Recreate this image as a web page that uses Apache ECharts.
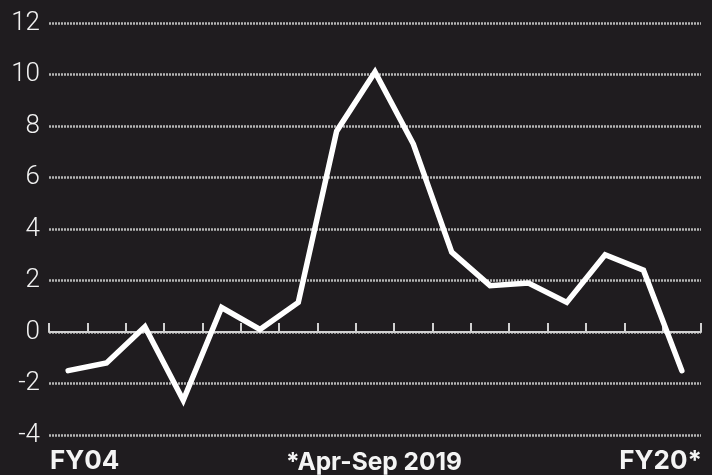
<!DOCTYPE html>
<html>
<head>
<meta charset="utf-8">
<style>
  html, body { margin: 0; padding: 0; background: #1f1c1f; }
  #chart { width: 712px; height: 475px; }
</style>
<script src="https://cdn.jsdelivr.net/npm/echarts@6/dist/echarts.min.js"></script>
</head>
<body>
<div id="chart"></div>
<script>
// Fiscal years FY04 through FY20 (FY20 covers Apr-Sep 2019 only)
const years = ['FY04', 'FY05', 'FY06', 'FY07', 'FY08', 'FY09', 'FY10', 'FY11', 'FY12',
               'FY13', 'FY14', 'FY15', 'FY16', 'FY17', 'FY18', 'FY19', 'FY20*'];
const values = [-1.5, -1.2, 0.2, -2.65, 0.95, 0.1, 1.15, 7.8, 10.1,
                7.3, 3.1, 1.8, 1.9, 1.15, 3.0, 2.4, -1.5];
const yTicks = { min: -4, max: 12, interval: 2 };
const footLabels = { left: 'FY04', middle: '*Apr-Sep 2019', right: 'FY20*' };

const chart = echarts.init(document.getElementById('chart'), null, { renderer: 'canvas' });

const footStyle = {
  fill: '#f4f4f4',
  fontFamily: 'Inter, Roboto, sans-serif',
  fontWeight: 'bold',
  fontSize: 26
};

chart.setOption({
  backgroundColor: '#1f1c1f',
  animation: false,
  grid: { left: 49, right: 11, top: 23, bottom: 40 },
  xAxis: {
    type: 'category',
    data: years,
    boundaryGap: true,
    axisLine: { onZero: true, lineStyle: { color: '#d0d0d0', width: 2 } },
    axisTick: { show: true, inside: true, interval: 0, length: 9, lineStyle: { color: '#d0d0d0', width: 2 } },
    axisLabel: { show: false },
    splitLine: { show: false }
  },
  yAxis: {
    type: 'value',
    min: yTicks.min,
    max: yTicks.max,
    interval: yTicks.interval,
    axisLine: { show: false },
    axisTick: { show: false },
    axisLabel: {
      color: '#f2f2f2',
      fontFamily: 'Roboto, sans-serif',
      fontWeight: 300,
      fontSize: 26,
      margin: 9
    },
    splitLine: {
      show: true,
      lineStyle: { color: '#b4b4b4', width: 2.5, type: [2, 1] }
    }
  },
  series: [{
    type: 'line',
    data: values,
    showSymbol: false,
    symbol: 'none',
    lineStyle: { color: '#ffffff', width: 5.5, cap: 'round', join: 'miter' },
    z: 5
  }],
  graphic: [
    { type: 'text', left: 50, top: 448, style: Object.assign({ text: footLabels.left }, footStyle) },
    { type: 'text', left: 286, top: 450, style: Object.assign({ text: footLabels.middle }, footStyle, { fontSize: 24.5 }) },
    { type: 'text', right: 10, top: 448, style: Object.assign({ text: footLabels.right }, footStyle) }
  ]
});
</script>
</body>
</html>
